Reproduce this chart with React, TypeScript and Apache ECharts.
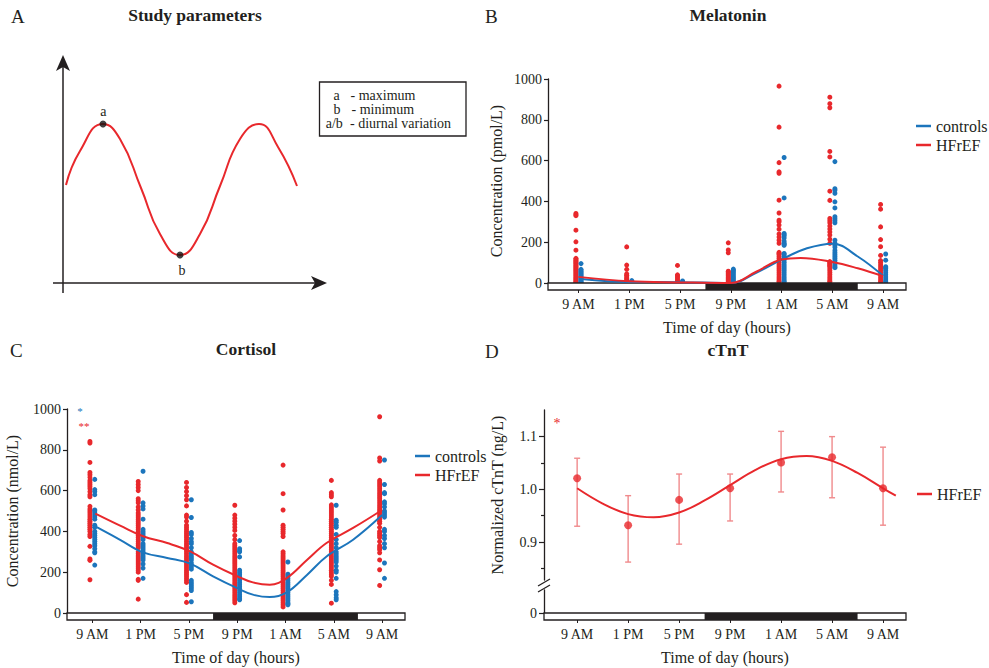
import { useEffect, useRef } from 'react';
import * as echarts from 'echarts';

const FONT = 'Liberation Serif, Times New Roman, serif';
const INK = '#231f20';
const RED = '#e8282c';
const BLUE = '#1c75bc';
const ERR = '#f08a8c';

// time axis: hours after 9 AM
const HOURS = [0, 4, 8, 12, 16, 20, 24];
const TICK_LABELS = ['9 AM', '1 PM', '5 PM', '9 PM', '1 AM', '5 AM', '9 AM'];
const NIGHT = [10, 22];

// Panel A schematic curve (x, y in schematic units)
const schematicX = [3, 17, 40, 57, 78, 97, 117, 137, 157, 177, 196, 215, 234];
const schematicY = [98, 132, 159, 144, 95, 49, 28, 49, 97, 144, 159, 136, 97];
const schematicMax = [40, 159];
const schematicMin = [117, 28];

// Panel B melatonin (pmol/L), one list per time point
const melatoninHF = [
  [341, 335, 330, 259, 202, 161, 121, 115, 110, 105, 100, 95, 90, 85, 80, 75, 70, 65, 60, 55, 50, 45, 40, 35, 30, 25, 20, 15, 10, 5, 2],
  [177, 88, 67, 45, 38, 30, 22, 15, 10, 5, 2],
  [86, 40, 35, 28, 20, 12, 6, 2],
  [197, 162, 148, 58, 55, 50, 45, 40, 35, 30, 25, 20, 15, 10, 5, 2],
  [965, 764, 590, 545, 538, 406, 343, 308, 300, 284, 264, 240, 225, 210, 195, 150, 145, 140, 130, 120, 110, 100, 90, 80, 70, 60, 50, 40, 30, 20, 10, 5],
  [911, 879, 859, 645, 618, 450, 405, 316, 305, 295, 280, 265, 250, 235, 215, 195, 105, 100, 95, 90, 85, 80, 70, 60, 50, 40, 30, 20, 10, 5],
  [385, 362, 275, 213, 178, 135, 110, 100, 90, 80, 70, 60, 50, 40, 30, 20, 10, 5],
];
const melatoninControls = [
  [95, 67, 60, 55, 50, 45, 40, 35, 30, 25, 20, 15, 10, 5, 2],
  [12, 5, 2],
  [10, 5, 2],
  [68, 62, 55, 48, 40, 32, 25, 18, 10, 5, 2],
  [615, 417, 243, 237, 230, 220, 205, 195, 190, 185, 145, 140, 130, 120, 110, 100, 90, 80, 70, 60, 50, 40, 30, 20, 10, 5],
  [595, 462, 455, 440, 398, 368, 325, 315, 305, 295, 210, 195, 185, 175, 160, 150, 140, 130, 120, 110, 100, 90, 80, 75],
  [142, 112, 80, 75, 70, 60, 50, 40, 30, 20, 10, 5],
];
const melCtrlFitT = [0.2, 4, 8, 12, 14, 16, 18, 20, 22, 24];
const melCtrlFitV = [20, 5, 4, 0, 50, 115, 170, 193, 130, 35];
const melHFFitT = [0, 4, 8, 12, 14, 16, 17.5, 20, 22, 24];
const melHFFitV = [30, 8, 3, 0, 55, 115, 123, 103, 72, 33];

// Panel C cortisol (nmol/L)
const cortisolHF = [
  [841, 833, 738, 689, 678, 665, 650, 640, 630, 620, 610, 595, 580, 570, 523, 510, 500, 490, 480, 470, 460, 450, 440, 430, 420, 410, 400, 385, 375, 327, 265, 258, 163],
  [645, 630, 615, 600, 560, 550, 540, 520, 505, 490, 480, 470, 460, 450, 440, 430, 420, 410, 400, 390, 380, 370, 360, 350, 340, 330, 320, 300, 290, 280, 270, 260, 250, 240, 230, 220, 210, 200, 165, 160, 68],
  [640, 615, 595, 575, 555, 525, 480, 470, 450, 430, 420, 410, 400, 390, 380, 370, 360, 350, 340, 330, 320, 310, 300, 290, 280, 270, 260, 250, 240, 230, 220, 210, 200, 190, 180, 170, 160, 150, 90, 52],
  [528, 480, 465, 450, 435, 420, 405, 380, 360, 340, 330, 320, 310, 300, 290, 280, 270, 260, 250, 240, 230, 220, 210, 200, 190, 180, 170, 160, 150, 140, 130, 120, 110, 100, 90, 80, 70, 60, 50],
  [725, 585, 505, 430, 420, 410, 400, 390, 375, 300, 290, 280, 270, 260, 250, 240, 230, 220, 210, 200, 190, 180, 170, 160, 150, 140, 130, 120, 110, 100, 90, 80, 70, 60, 50, 40, 30],
  [650, 590, 580, 570, 530, 520, 510, 500, 490, 480, 470, 460, 450, 440, 430, 420, 410, 400, 390, 380, 370, 360, 350, 340, 330, 320, 310, 300, 290, 280, 270, 260, 250, 240, 230, 220, 210, 200, 190, 180, 160, 140, 48],
  [962, 760, 745, 650, 640, 630, 620, 610, 600, 590, 580, 570, 560, 550, 540, 530, 520, 510, 500, 490, 480, 470, 460, 450, 440, 420, 400, 390, 380, 370, 350, 330, 320, 310, 295, 260, 212, 135],
];
const cortisolControls = [
  [655, 605, 595, 580, 505, 500, 490, 480, 470, 460, 430, 420, 400, 390, 380, 370, 360, 350, 340, 330, 315, 300, 295, 235],
  [695, 540, 525, 510, 460, 410, 400, 390, 380, 370, 360, 340, 330, 320, 310, 300, 290, 280, 270, 260, 240, 220, 170],
  [555, 468, 395, 385, 365, 350, 340, 320, 300, 290, 280, 270, 260, 245, 235, 225, 215, 160, 150, 140, 130, 120, 110, 55],
  [355, 315, 305, 300, 275, 210, 200, 190, 180, 170, 160, 150, 140, 130, 120, 110, 100, 90, 80, 70, 65],
  [250, 190, 180, 170, 160, 150, 140, 130, 120, 110, 100, 90, 80, 70, 60, 50, 45, 40],
  [528, 455, 445, 430, 420, 385, 360, 340, 320, 300, 290, 280, 270, 260, 250, 230, 210, 200, 170, 105, 90, 75, 65],
  [750, 630, 590, 585, 545, 535, 520, 500, 490, 480, 470, 410, 400, 380, 365, 340, 320, 245, 170],
];
const cortCtrlFitT = [0.25, 2.3, 4.2, 6.2, 8.1, 10, 12, 13.3, 14.7, 16.1, 17.8, 19.4, 21.6, 24];
const cortCtrlFitV = [425, 359, 297, 270, 242, 180, 122, 90, 78, 101, 188, 277, 359, 480];
const cortHFFitT = [0.25, 2.3, 4.2, 6.2, 8.1, 10, 12, 13.3, 14.7, 16.1, 17.8, 19.4, 21.6, 24];
const cortHFFitV = [487, 428, 376, 343, 302, 237, 180, 150, 139, 171, 261, 343, 417, 505];

// Panel D normalized cTnT
const ctntMean = [1.021, 0.932, 0.98, 1.002, 1.051, 1.061, 1.002];
const ctntLow = [0.93, 0.862, 0.896, 0.94, 0.995, 0.984, 0.932];
const ctntHigh = [1.059, 0.988, 1.029, 1.029, 1.11, 1.1, 1.08];
const ctntFitT = [0, 2, 4, 6, 8, 10, 12, 14, 16, 18, 20, 22, 24, 25];
const ctntFitV = [1.002, 0.973, 0.953, 0.947, 0.956, 0.979, 1.008, 1.037, 1.057, 1.063, 1.054, 1.031, 1.002, 0.988];

const RED_OFF = -0.2;
const BLUE_OFF = 0.2;

const zip = (a: number[], b: number[]) => a.map((v, i) => [v, b[i]]);
const columns = (cols: number[][], off: number) =>
  cols.flatMap((c, i) => c.map((v) => [HOURS[i] + off, v]));

function timeAxis(gridIndex: number, min: number, max: number, show: boolean) {
  return {
    type: 'value',
    gridIndex,
    min,
    max,
    axisLine: { show: false, onZero: false },
    splitLine: { show: false },
    axisTick: { show, customValues: HOURS, length: 10, lineStyle: { color: INK, width: 1 } },
    axisLabel: {
      show,
      customValues: HOURS,
      formatter: (v: number) => TICK_LABELS[HOURS.indexOf(v)] ?? '',
      margin: 14,
      fontSize: 14,
      fontFamily: FONT,
      color: INK,
    },
    name: show ? 'Time of day (hours)' : '',
    nameLocation: 'middle',
    nameGap: 36,
    nameTextStyle: { fontSize: 16, fontFamily: FONT, color: INK },
  };
}

function concAxis(gridIndex: number, name: string, nameGap: number) {
  return {
    type: 'value',
    gridIndex,
    min: 0,
    max: 1000,
    interval: 200,
    axisLine: { show: true, onZero: false, lineStyle: { color: INK, width: 1.3 } },
    axisTick: { show: true, length: 4, lineStyle: { color: INK, width: 1.2 } },
    splitLine: { show: false },
    axisLabel: { margin: 6, fontSize: 14, fontFamily: FONT, color: INK, formatter: (v: number) => String(v) },
    name,
    nameLocation: 'middle',
    nameGap,
    nameTextStyle: { fontSize: 16, fontFamily: FONT, color: INK },
  };
}

const dayBar = (xAxisIndex: number, yAxisIndex: number) => ({
  type: 'custom',
  xAxisIndex,
  yAxisIndex,
  silent: true,
  clip: false,
  z: 3,
  data: [NIGHT],
  renderItem: (params: any, api: any) => {
    const cs = params.coordSys;
    const yb = cs.y + cs.height;
    const xs = api.coord([api.value(0), 0])[0];
    const xe = api.coord([api.value(1), 0])[0];
    return {
      type: 'group',
      children: [
        { type: 'rect', shape: { x: cs.x, y: yb, width: cs.width, height: 7 }, style: { fill: '#fff', stroke: INK, lineWidth: 1.3 } },
        { type: 'rect', shape: { x: xs, y: yb, width: xe - xs, height: 7 }, style: { fill: INK } },
      ],
    };
  },
});

const dots = (name: string, xi: number, yi: number, data: number[][], color: string) => ({
  name,
  type: 'scatter',
  xAxisIndex: xi,
  yAxisIndex: yi,
  data,
  symbolSize: 5,
  itemStyle: { color, opacity: 1 },
  z: 2,
});

const fit = (name: string, xi: number, yi: number, data: number[][], color: string) => ({
  name,
  type: 'line',
  xAxisIndex: xi,
  yAxisIndex: yi,
  data,
  smooth: 0.4,
  symbol: 'none',
  color,
  lineStyle: { color, width: 2 },
  z: 4,
});

function legendAt(left: number, top: number, names: string[]) {
  return {
    left,
    top,
    orient: 'vertical',
    data: names,
    icon: 'rect',
    itemWidth: 15,
    itemHeight: 2.5,
    itemGap: 3,
    textStyle: { fontSize: 16, fontFamily: FONT, color: INK },
    selectedMode: false,
  };
}

const T = (text: string, x: number, y: number, size: number, opts: any = {}) => ({
  type: 'text',
  x,
  y,
  style: {
    text,
    fontFamily: FONT,
    fontSize: size,
    fill: opts.fill ?? INK,
    fontWeight: opts.bold ? 'bold' : 'normal',
    textAlign: opts.align ?? 'left',
    textVerticalAlign: 'middle',
  },
  z: 10,
});

const L = (x1: number, y1: number, x2: number, y2: number, w = 1.5) => ({
  type: 'line',
  shape: { x1, y1, x2, y2 },
  style: { stroke: INK, lineWidth: w },
  z: 10,
});

export default function App() {
  const ref = useRef<HTMLDivElement>(null);
  useEffect(() => {
    if (!ref.current) return;
    const chart = echarts.init(ref.current, null, { renderer: 'svg' });
    const option: any = {
      animation: false,
      backgroundColor: '#fff',
      textStyle: { fontFamily: FONT },
      grid: [
        { left: 63, top: 58, width: 262, height: 225 },
        { left: 548, top: 79, width: 358, height: 204 },
        { left: 67, top: 409, width: 338, height: 204 },
        { left: 544, top: 410, width: 362, height: 170 },
        { left: 544, top: 590, width: 362, height: 23 },
      ],
      xAxis: [
        { type: 'value', gridIndex: 0, min: 0, max: 262, show: false },
        timeAxis(1, -2.4, 25.8, true),
        timeAxis(2, -2.1, 25.9, true),
        timeAxis(3, -2.6, 25.8, false),
        timeAxis(4, -2.6, 25.8, true),
      ],
      yAxis: [
        { type: 'value', gridIndex: 0, min: 0, max: 225, show: false },
        concAxis(1, 'Concentration (pmol/L)', 44),
        concAxis(2, 'Concentration (nmol/L)', 47),
        {
          type: 'value',
          gridIndex: 3,
          position: 'left',
          offset: 0,
          min: 0.828,
          max: 1.1505,
          axisLine: { show: true, onZero: false, lineStyle: { color: INK, width: 1.3 } },
          axisTick: { show: true, length: 5, customValues: [0.9, 1.0, 1.1], lineStyle: { color: INK, width: 1.2 } },
          axisLabel: { customValues: [0.9, 1.0, 1.1], formatter: (v: number) => v.toFixed(1), margin: 7, fontSize: 14, fontFamily: FONT, color: INK },
          splitLine: { show: false },
          name: 'Normalized cTnT (ng/L)',
          nameLocation: 'middle',
          nameGap: 39,
          nameTextStyle: { fontSize: 16, fontFamily: FONT, color: INK },
        },
        {
          type: 'value',
          gridIndex: 3,
          position: 'left',
          offset: 0,
          min: 0.828,
          max: 1.1505,
          axisLine: { show: false, onZero: false },
          axisTick: { show: true, length: 3, customValues: [0.85, 0.95, 1.05], lineStyle: { color: INK, width: 1.2 } },
          axisLabel: { show: false },
          splitLine: { show: false },
        },
        {
          type: 'value',
          gridIndex: 4,
          position: 'left',
          min: 0,
          max: 1,
          axisLine: { show: true, onZero: false, lineStyle: { color: INK, width: 1.3 } },
          axisTick: { show: true, length: 5, customValues: [0], lineStyle: { color: INK, width: 1.2 } },
          axisLabel: { customValues: [0], margin: 7, fontSize: 14, fontFamily: FONT, color: INK },
          splitLine: { show: false },
        },
      ],
      legend: [
        legendAt(911, 113, ['controls', 'HFrEF']),
        legendAt(410, 443, ['controls', 'HFrEF']),
        legendAt(912, 481, ['HFrEF']),
      ],
      series: [
        // Panel A
        {
          name: 'schematic',
          type: 'line',
          xAxisIndex: 0,
          yAxisIndex: 0,
          data: zip(schematicX, schematicY),
          smooth: 0.5,
          symbol: 'none',
          lineStyle: { color: RED, width: 2 },
        },
        {
          name: 'extrema',
          type: 'scatter',
          xAxisIndex: 0,
          yAxisIndex: 0,
          symbolSize: 7,
          itemStyle: { color: '#111' },
          z: 5,
          data: [schematicMax, schematicMin],
        },
        // Panel B
        dayBar(1, 1),
        dots('HFrEF values', 1, 1, columns(melatoninHF, RED_OFF), RED),
        dots('controls values', 1, 1, columns(melatoninControls, BLUE_OFF), BLUE),
        fit('controls', 1, 1, zip(melCtrlFitT, melCtrlFitV), BLUE),
        fit('HFrEF', 1, 1, zip(melHFFitT, melHFFitV), RED),
        // Panel C
        dayBar(2, 2),
        dots('HFrEF values', 2, 2, columns(cortisolHF, RED_OFF), RED),
        dots('controls values', 2, 2, columns(cortisolControls, BLUE_OFF), BLUE),
        fit('controls', 2, 2, zip(cortCtrlFitT, cortCtrlFitV), BLUE),
        fit('HFrEF', 2, 2, zip(cortHFFitT, cortHFFitV), RED),
        // Panel D
        {
          name: 'cTnT error',
          type: 'custom',
          xAxisIndex: 3,
          yAxisIndex: 3,
          data: HOURS.map((h, i) => [h, ctntLow[i], ctntHigh[i]]),
          encode: { x: 0, y: [1, 2] },
          z: 3,
          renderItem: (_p: any, api: any) => {
            const x = api.value(0);
            const lo = api.coord([x, api.value(1)]);
            const hi = api.coord([x, api.value(2)]);
            const st = { stroke: ERR, lineWidth: 1.4 };
            return {
              type: 'group',
              children: [
                { type: 'line', shape: { x1: lo[0], y1: lo[1], x2: hi[0], y2: hi[1] }, style: st },
                { type: 'line', shape: { x1: lo[0] - 3, y1: lo[1], x2: lo[0] + 3, y2: lo[1] }, style: st },
                { type: 'line', shape: { x1: hi[0] - 3, y1: hi[1], x2: hi[0] + 3, y2: hi[1] }, style: st },
              ],
            };
          },
        },
        fit('HFrEF', 3, 3, zip(ctntFitT, ctntFitV), RED),
        {
          name: 'cTnT mean',
          type: 'scatter',
          xAxisIndex: 3,
          yAxisIndex: 3,
          data: zip(HOURS, ctntMean),
          symbolSize: 8,
          itemStyle: { color: RED },
          z: 5,
        },
        dayBar(4, 5),
      ],
      graphic: [
        // Panel A
        T('A', 11, 16, 19),
        T('Study parameters', 195, 15, 17.5, { bold: true, align: 'center' }),
        L(63, 293, 63, 64),
        { type: 'polygon', shape: { points: [[63, 55], [56, 71], [63, 67], [70, 71]] }, style: { fill: INK }, z: 10 },
        L(53, 283, 318, 283),
        { type: 'polygon', shape: { points: [[327, 283], [311, 276], [315, 283], [311, 290]] }, style: { fill: INK }, z: 10 },
        T('a', 103.3, 111, 14, { align: 'center' }),
        T('b', 182, 270, 14, { align: 'center' }),
        { type: 'rect', shape: { x: 319.5, y: 82, width: 146.5, height: 54 }, style: { fill: 'none', stroke: INK, lineWidth: 1.3 }, z: 10 },
        T('a', 336.7, 95, 14, { align: 'center' }),
        T('- maximum', 350.5, 95, 14),
        T('b', 337, 109, 14, { align: 'center' }),
        T('- minimum', 351.5, 109, 14),
        T('a/b', 334.3, 123, 14, { align: 'center' }),
        T('- diurnal variation', 350, 123, 14),
        // Panel B
        T('B', 485, 16, 19),
        T('Melatonin', 728, 15, 17.5, { bold: true, align: 'center' }),
        // Panel C
        T('C', 10, 350, 19),
        T('Cortisol', 246, 349, 17.5, { bold: true, align: 'center' }),
        T('*', 80, 411, 11, { align: 'center', fill: BLUE }),
        T('**', 84, 426, 11, { align: 'center', fill: RED }),
        // Panel D
        T('D', 485, 351, 19),
        T('cTnT', 728, 350, 17.5, { bold: true, align: 'center' }),
        T('*', 557, 423, 14, { align: 'center', fill: RED }),
        L(538, 586, 550, 579, 1.3),
        L(538, 592, 550, 585, 1.3),
      ],
    };
    chart.setOption(option);
    return () => chart.dispose();
  }, []);
  return <div ref={ref} style={{ position: 'fixed', left: 0, top: 0, width: 989, height: 668 }} />;
}
